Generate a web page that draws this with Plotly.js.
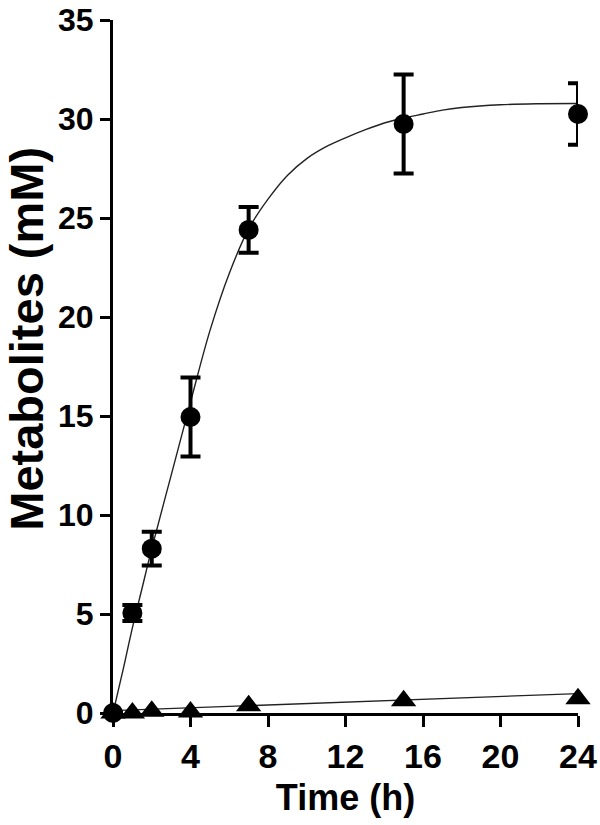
<!DOCTYPE html>
<html>
<head>
<meta charset="utf-8">
<script src="https://cdn.plot.ly/plotly-3.0.1.min.js"></script>
<style>html,body{margin:0;padding:0;background:#fff}#chart{width:600px;height:825px}</style>
</head>
<body>
<div id="chart"></div>
<script>
// Measured data (time in h, metabolites in mM)
const timePoints = [0, 1, 2, 4, 7, 15, 24];
const circleValues = [0, 5.05, 8.3, 14.95, 24.4, 29.75, 30.25];
const circleErrors = [0, 0.4, 0.85, 2.0, 1.15, 2.5, 1.55];
const triangleValues = [0, 0, 0.09, 0.05, 0.37, 0.62, 0.72];

// Fitted curve for circles
const fitTime = [0, 0.5, 1, 1.5, 2, 3, 4, 5, 6, 7, 8, 9, 10, 11, 12, 13, 14, 15, 16, 17, 18, 20, 22, 24];
const fitValues = [0, 2.1, 4.3, 6.3, 8.3, 12.0, 15.7, 19.3, 22.2, 24.45, 25.95, 27.15, 28.0, 28.6, 29.05, 29.45, 29.8, 30.05, 30.25, 30.45, 30.58, 30.72, 30.77, 30.78];

// Linear fit for triangles
const lineTime = [0, 24];
const lineValues = [0.12, 0.98];

const xTicks = [0, 4, 8, 12, 16, 20, 24];
const yTicks = [0, 5, 10, 15, 20, 25, 30, 35];

const fontFamily = '"Liberation Sans", Arial, Helvetica, sans-serif';

const traces = [
  {
    x: fitTime, y: fitValues, type: 'scatter', mode: 'lines',
    line: {color: '#222', width: 1.4, shape: 'spline', smoothing: 1},
    hoverinfo: 'skip', cliponaxis: false
  },
  {
    x: lineTime, y: lineValues, type: 'scatter', mode: 'lines',
    line: {color: '#222', width: 1.4},
    hoverinfo: 'skip', cliponaxis: false
  },
  {
    x: timePoints, y: triangleValues, type: 'scatter', mode: 'markers',
    marker: {symbol: 'triangle-up', size: 22, color: '#000'},
    cliponaxis: false
  },
  {
    x: timePoints, y: circleValues, type: 'scatter', mode: 'markers',
    marker: {symbol: 'circle', size: 20, color: '#000'},
    error_y: {type: 'data', array: circleErrors, visible: true, color: '#000', thickness: 4, width: 10},
    cliponaxis: false
  }
];

const layout = {
  width: 600, height: 825,
  margin: {l: 113, r: 22, t: 20, b: 112},
  paper_bgcolor: '#fff', plot_bgcolor: '#fff',
  showlegend: false,
  font: {family: fontFamily, color: '#000'},
  xaxis: {
    range: [0, 24], tickvals: xTicks, ticktext: xTicks.map(String),
    showgrid: false, zeroline: false, showline: true, linecolor: '#000', linewidth: 3,
    ticks: 'outside', ticklen: 11, tickwidth: 3, tickcolor: '#000',
    ticklabeloverflow: 'allow',
    tickfont: {family: fontFamily, size: 34, weight: 'bold', color: '#000'},
    title: {text: '<b>Time (h)</b>', font: {family: fontFamily, size: 36, color: '#000'}, standoff: 12}
  },
  yaxis: {
    range: [0, 35], tickvals: yTicks, ticktext: yTicks.map(String),
    showgrid: false, zeroline: false, showline: true, linecolor: '#000', linewidth: 3,
    ticks: 'outside', ticklen: 10, tickwidth: 3, tickcolor: '#000',
    ticklabeloverflow: 'allow',
    tickfont: {family: fontFamily, size: 32, weight: 'bold', color: '#000'},
    title: {text: ''}
  },
  annotations: [{
    text: '<b>Metabolites (mM)</b>', textangle: -90,
    xref: 'paper', yref: 'paper', x: -0.185, y: 0.54,
    xanchor: 'center', yanchor: 'middle', showarrow: false,
    font: {family: fontFamily, size: 47, color: '#000'}
  }]
};

Plotly.newPlot('chart', traces, layout, {displayModeBar: false, staticPlot: true});
</script>
</body>
</html>
